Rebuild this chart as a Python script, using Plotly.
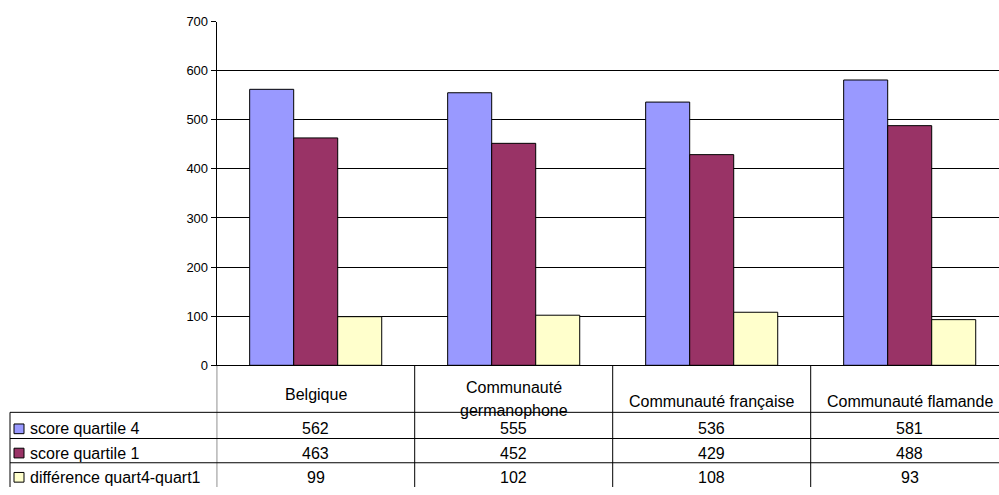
import plotly.graph_objects as go

# données du graphique
categories = ["Belgique", "Communauté<br>germanophone", "Communauté française", "Communauté flamande"]
series_names = ["score quartile 4", "score quartile 1", "différence quart4-quart1"]
score_q4 = [562, 555, 536, 581]
score_q1 = [463, 452, 429, 488]
difference = [99, 102, 108, 93]
y_ticks = [0, 100, 200, 300, 400, 500, 600, 700]

colors = ["#9999FF", "#993366", "#FFFFCC"]
series_values = [score_q4, score_q1, difference]

W, H = 999, 495
FONT = "Liberation Sans, Arial, sans-serif"


def px(x):
    return x / W


def py(y):
    return 1 - y / H


plot_left, plot_top, plot_bottom = 216.7, 15, 369.5
cat_width = 198.0
x_idx = list(range(len(categories)))

fig = go.Figure()
for name, vals, col in zip(series_names, series_values, colors):
    fig.add_trace(go.Bar(
        x=x_idx, y=vals, name=name,
        marker=dict(color=col, line=dict(color="black", width=1)),
        showlegend=False, hoverinfo="y+name"
    ))

shapes = []
annotations = []

# lignes verticales du tableau (limites des catégories)
for i in range(len(categories)):
    shapes.append(dict(type="line", xref="x", yref="paper",
                       x0=i - 0.5, x1=i - 0.5, y0=0, y1=py(plot_bottom),
                       line=dict(color="black", width=1)))

# lignes horizontales du tableau
row_lines = [418, 445, 470]
for yl in row_lines:
    shapes.append(dict(type="line", xref="paper", yref="paper",
                       x0=px(10), x1=1, y0=py(yl), y1=py(yl),
                       line=dict(color="black", width=1)))
shapes.append(dict(type="line", xref="paper", yref="paper",
                   x0=px(10), x1=px(10), y0=0, y1=py(418),
                   line=dict(color="black", width=1)))

# en-têtes des catégories (texte sur deux lignes : interligne 24 px)
header_y = [400, 404, 407, 407]
for i, (cat, hy) in enumerate(zip(categories, header_y)):
    lines = cat.split("<br>")
    for k, part in enumerate(lines):
        ly = hy + (k - (len(lines) - 1) / 2) * 24
        annotations.append(dict(x=i, y=py(ly), xref="x", yref="paper", text=part,
                                showarrow=False, xanchor="center", yanchor="middle",
                                font=dict(family=FONT, size=16, color="black")))

# lignes de données + légende
row_y = [435, 460, 485]
for name, vals, col, ry in zip(series_names, series_values, colors, row_y):
    shapes.append(dict(type="rect", xref="paper", yref="paper",
                       x0=px(14), x1=px(24), y0=py(ry - 5), y1=py(ry + 5),
                       fillcolor=col, line=dict(color="black", width=1)))
    annotations.append(dict(x=px(28), y=py(ry), xref="paper", yref="paper", text=name,
                            showarrow=False, xanchor="left", yanchor="middle",
                            font=dict(family=FONT, size=16, color="black")))
    for i, v in enumerate(vals):
        annotations.append(dict(x=i, y=py(ry), xref="x", yref="paper", text=str(v),
                                showarrow=False, xanchor="center", yanchor="middle",
                                font=dict(family=FONT, size=16, color="black")))

fig.update_layout(
    width=W, height=H,
    margin=dict(l=0, r=0, t=0, b=0),
    paper_bgcolor="white", plot_bgcolor="white",
    bargap=0.333, bargroupgap=0,
    barmode="group",
    shapes=shapes, annotations=annotations,
    xaxis=dict(domain=[px(plot_left), 1],
               range=[-0.5, -0.5 + (W - plot_left) / cat_width],
               showticklabels=False, showgrid=False, zeroline=False,
               showline=True, linecolor="black", linewidth=1, ticks=""),
    yaxis=dict(domain=[py(plot_bottom), py(plot_top)],
               range=[0, 700], tickvals=y_ticks,
               showgrid=True, gridcolor="black", gridwidth=1,
               zeroline=False, showline=True, linecolor="black", linewidth=1,
               ticks="outside", ticklen=5, tickcolor="black",
               tickfont=dict(family=FONT, size=13, color="black")),
)

# pas de marge autour de la page
fig.write_html("out.html", config={"displayModeBar": False},
               post_script="document.body.style.margin='0';document.body.style.overflow='hidden';")
